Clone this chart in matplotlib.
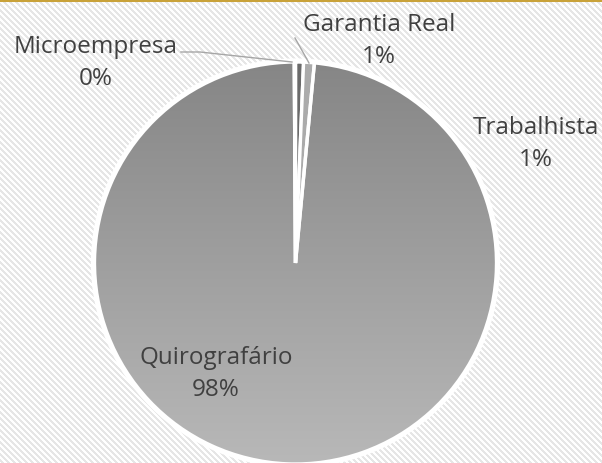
import numpy as np
import matplotlib
matplotlib.use("Agg")
import matplotlib.pyplot as plt
from matplotlib.colors import LinearSegmentedColormap

# ---- data ----
categories = ["Trabalhista", "Garantia Real", "Quirografário", "Microempresa"]
values = [0.64, 0.86, 98.4, 0.10]

W, H = 602, 464
fig = plt.figure(figsize=(W / 100, H / 100), dpi=100)

# background stripes
bg = fig.add_axes([0, 0, 1, 1])
yy, xx = np.mgrid[0:H, 0:W]
period = 6
stripe = ((xx - yy) % period) < 3
img = np.where(stripe, 0.9, 1.0)
bg.imshow(img, cmap="gray", vmin=0, vmax=1, interpolation="nearest",
          extent=(0, W, 0, H), aspect="auto")
bg.axhline(H - 1.2, color="#C9A23A", lw=2.2)
bg.set_xlim(0, W)
bg.set_ylim(0, H)
bg.axis("off")

ax = fig.add_axes([0, 0, 1, 1])
ax.set_aspect("equal")
ax.patch.set_alpha(0)

cx, cy, r = 295.5, H - 264, 201
colors = ["#6b6b6b", "#ababab", "none", "#5a5a5a"]
wedges, _ = ax.pie(values, startangle=90, counterclock=False,
                   center=(cx, cy), radius=r, colors=colors,
                   wedgeprops=dict(edgecolor="white", linewidth=2.4),
                   frame=True)
ax.set_xlim(0, W)
ax.set_ylim(0, H)
ax.axis("off")

# gradient fill for Quirografário
cmap = LinearSegmentedColormap.from_list("g", ["#b8b8b8", "#868686"])
grad = np.linspace(0, 1, 256).reshape(-1, 1)
im = ax.imshow(grad, cmap=cmap, extent=(cx - r, cx + r, cy - r, cy + r),
               origin="lower", aspect="auto", zorder=0.5)
im.set_clip_path(wedges[2])
for w in wedges:
    w.set_zorder(1)

# outer white halo
circ = plt.Circle((cx, cy), r + 1.5, fill=False, ec="white", lw=3, zorder=2)
ax.add_patch(circ)

pcts = [f"{v / sum(values) * 100:.0f}%" for v in values]
txt_kw = dict(fontsize=17.5, color="#404040", ha="center", va="center",
              family=["Open Sans", "DejaVu Sans"], linespacing=1.42)
label_pos = {
    "Trabalhista": (536, 144),
    "Garantia Real": (379, 41),
    "Quirografário": (216, 374),
    "Microempresa": (96, 63),
}
for cat, p in zip(categories, pcts):
    x, y = label_pos[cat]
    ax.text(x, H - y, f"{cat}\n{p}", zorder=5, **txt_kw)

# leader lines
lc = "#a6a6a6"
ax.plot([181, 200, 292], [H - 53, H - 53, H - 63], color=lc, lw=1, zorder=4)
ax.plot([295, 309], [H - 39, H - 64], color=lc, lw=1, zorder=4)

fig.savefig("out.png", dpi=100)
